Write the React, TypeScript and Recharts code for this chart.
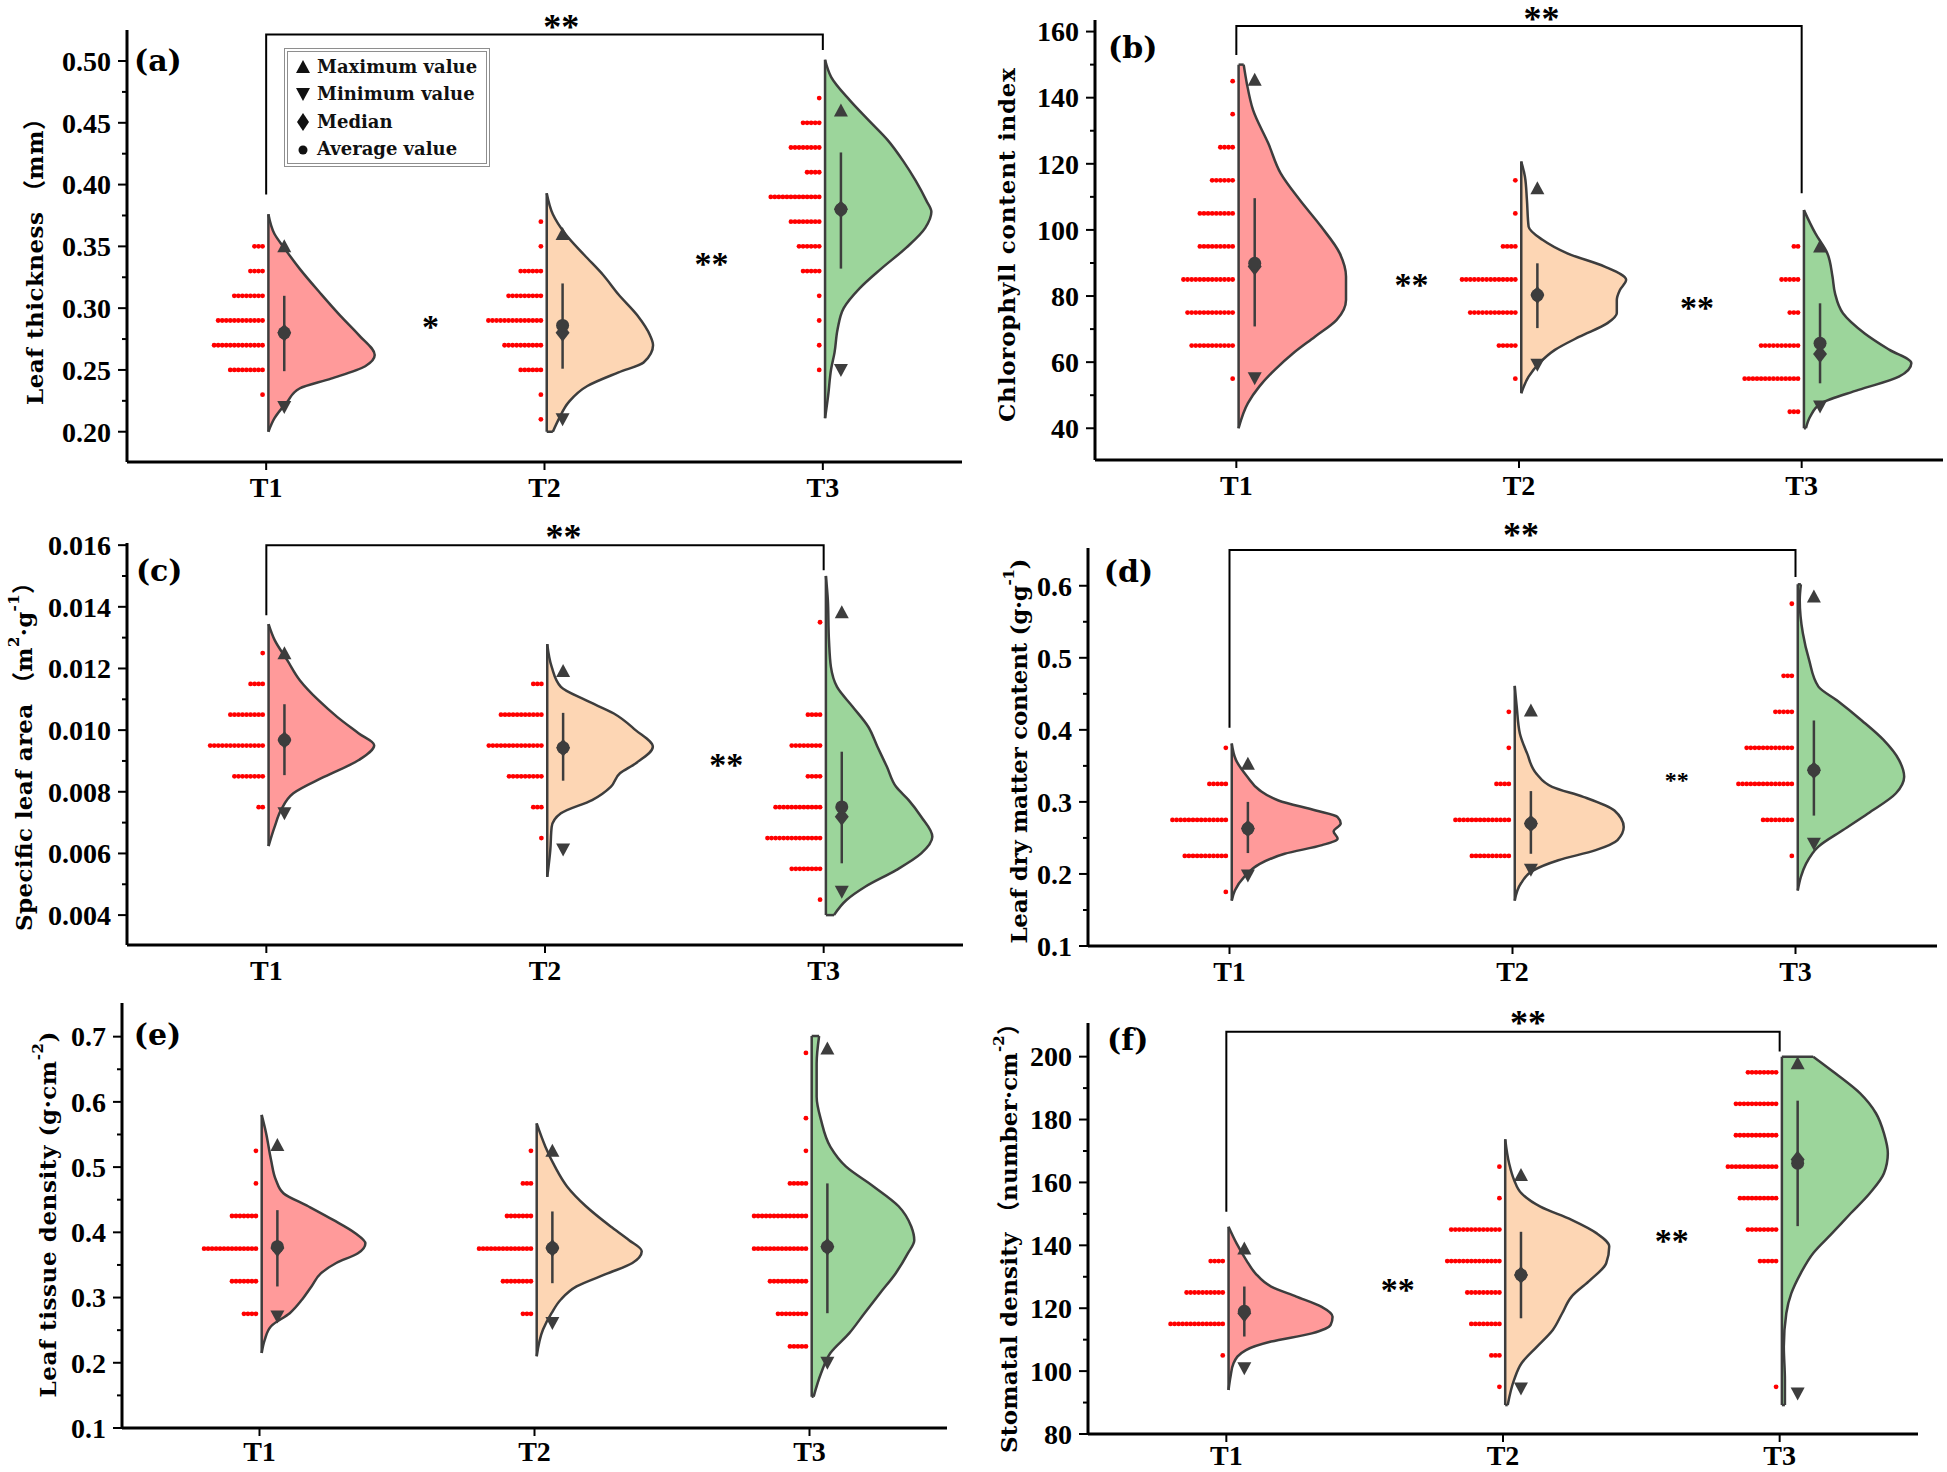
import React from 'react';
import { ComposedChart, Area, Line, Scatter, XAxis, YAxis, Legend } from 'recharts';

type Pair = [number, number];
type Star = [number, number, string];
type Seg = { t: string; sup?: boolean };

const treatments = ['T1', 'T2', 'T3'];

// ---------- (a) Leaf thickness ----------
const aTicks = [0.2, 0.25, 0.3, 0.35, 0.4, 0.45, 0.5];
const aMinor = [0.225, 0.275, 0.325, 0.375, 0.425, 0.475];
// violin outline: [value, half width in category units]
const aViolinT1: Pair[] = [[0.376, 0], [0.36, 0.022], [0.349, 0.056], [0.332, 0.112], [0.311, 0.191], [0.294, 0.258], [0.278, 0.326], [0.262, 0.382], [0.253, 0.348], [0.243, 0.225], [0.235, 0.112], [0.224, 0.067], [0.211, 0.022], [0.2, 0]];
const aViolinT2: Pair[] = [[0.393, 0], [0.376, 0.022], [0.36, 0.067], [0.343, 0.135], [0.327, 0.202], [0.311, 0.258], [0.294, 0.326], [0.278, 0.371], [0.27, 0.382], [0.256, 0.348], [0.248, 0.258], [0.237, 0.146], [0.224, 0.079], [0.211, 0.045], [0.2, 0.022]];
const aViolinT3: Pair[] = [[0.501, 0], [0.487, 0.022], [0.468, 0.09], [0.452, 0.157], [0.436, 0.225], [0.419, 0.281], [0.403, 0.326], [0.387, 0.364], [0.378, 0.382], [0.365, 0.36], [0.349, 0.292], [0.332, 0.202], [0.316, 0.124], [0.3, 0.067], [0.283, 0.045], [0.264, 0.034], [0.251, 0.022], [0.229, 0.011], [0.211, 0]];
// dot histogram: [bin centre, count]
const aDotsT1: Pair[] = [[0.35, 3], [0.33, 4], [0.31, 8], [0.29, 12], [0.27, 13], [0.25, 9], [0.23, 1]];
const aDotsT2: Pair[] = [[0.37, 1], [0.35, 1], [0.33, 6], [0.31, 9], [0.29, 14], [0.27, 10], [0.25, 6], [0.23, 1], [0.21, 1]];
const aDotsT3: Pair[] = [[0.47, 1], [0.45, 5], [0.43, 8], [0.41, 4], [0.39, 13], [0.37, 8], [0.35, 6], [0.33, 5], [0.31, 1], [0.29, 1], [0.27, 1], [0.25, 1]];
const aMax = [0.35, 0.36, 0.46];
const aMin = [0.22, 0.21, 0.25];
const aMedian = [0.28, 0.28, 0.38];
const aMean = [0.28, 0.286, 0.38];
const aSdLow = [0.249, 0.251, 0.332];
const aSdHigh = [0.31, 0.32, 0.426];
const aBracket = [0.392, 0.5215, 0.509];
const aTopStar = 2.06;
const aStars: Star[] = [[1.59, 0.289, '*'], [2.6, 0.34, '**']];

// ---------- (b) Chlorophyll content index ----------
const bTicks = [40, 60, 80, 100, 120, 140, 160];
const bMinor = [50, 70, 90, 110, 130, 150];
const bViolinT1: Pair[] = [[150, 0.018], [144.4, 0.029], [136.3, 0.051], [126.2, 0.105], [117.1, 0.149], [109.1, 0.216], [101, 0.292], [92.9, 0.358], [85.9, 0.38], [78.8, 0.38], [72.8, 0.347], [67.7, 0.27], [62.7, 0.193], [57.6, 0.127], [52.6, 0.073], [47.6, 0.033], [40, 0]];
const bViolinT2: Pair[] = [[120.7, 0], [116.1, 0.013], [109.1, 0.02], [101, 0.026], [97, 0.075], [92.9, 0.163], [88.9, 0.295], [84.9, 0.371], [81.8, 0.349], [78.8, 0.338], [74.8, 0.338], [71.8, 0.305], [67.7, 0.206], [63.7, 0.119], [59.7, 0.064], [55.6, 0.026], [50.6, 0]];
const bViolinT3: Pair[] = [[106, 0], [99, 0.04], [92.9, 0.083], [85.9, 0.101], [80.8, 0.11], [74.8, 0.138], [68.7, 0.215], [63.7, 0.303], [59.7, 0.38], [55.6, 0.336], [51.6, 0.193], [47.6, 0.062], [43.5, 0.022], [40, 0.007]];
const bDotsT1: Pair[] = [[145, 1], [135, 1], [125, 4], [115, 6], [105, 9], [95, 9], [85, 13], [75, 12], [65, 11], [55, 1]];
const bDotsT2: Pair[] = [[115, 1], [105, 1], [95, 4], [85, 14], [75, 12], [65, 5], [55, 1]];
const bDotsT3: Pair[] = [[95, 2], [85, 5], [75, 3], [65, 10], [55, 14], [45, 3]];
const bMax = [145.4, 112.6, 95];
const bMin = [55.1, 59.2, 46.6];
const bMedian = [88.9, 80.3, 62.5];
const bMean = [89.9, 80.3, 65.7];
const bSdLow = [70.8, 70.3, 53.6];
const bSdHigh = [109.6, 89.9, 77.8];
const bBracket = [152.9, 161.7, 111.1];
const bTopStar = 2.08;
const bStars: Star[] = [[1.62, 84.9, '**'], [2.63, 77.8, '**']];

// ---------- (c) Specific leaf area ----------
const cTicks = [0.004, 0.006, 0.008, 0.01, 0.012, 0.014, 0.016];
const cMinor = [0.005, 0.007, 0.009, 0.011, 0.013, 0.015];
const cViolinT1: Pair[] = [[0.01344, 0], [0.01292, 0.022], [0.01227, 0.067], [0.01162, 0.112], [0.01097, 0.179], [0.01043, 0.246], [0.00989, 0.324], [0.00951, 0.379], [0.00903, 0.324], [0.00849, 0.201], [0.00795, 0.089], [0.00741, 0.045], [0.00687, 0.022], [0.00624, 0]];
const cViolinT2: Pair[] = [[0.01279, 0], [0.01205, 0.016], [0.0114, 0.049], [0.01097, 0.138], [0.01054, 0.239], [0.01, 0.317], [0.00946, 0.379], [0.00892, 0.317], [0.0086, 0.261], [0.00816, 0.228], [0.00773, 0.161], [0.0073, 0.049], [0.00686, 0.016], [0.00611, 0.011], [0.00524, 0]];
const cViolinT3: Pair[] = [[0.015, 0], [0.01422, 0.007], [0.01292, 0.011], [0.01205, 0.018], [0.0114, 0.04], [0.01076, 0.096], [0.01011, 0.152], [0.00946, 0.185], [0.00881, 0.219], [0.00816, 0.252], [0.00773, 0.297], [0.00719, 0.342], [0.00654, 0.382], [0.006, 0.342], [0.00546, 0.252], [0.00492, 0.141], [0.00449, 0.074], [0.004, 0.029]];
const cDotsT1: Pair[] = [[0.0125, 1], [0.0115, 4], [0.0105, 9], [0.0095, 14], [0.0085, 8], [0.0075, 2]];
const cDotsT2: Pair[] = [[0.0115, 3], [0.0105, 11], [0.0095, 14], [0.0085, 9], [0.0075, 3], [0.0065, 1]];
const cDotsT3: Pair[] = [[0.0135, 1], [0.0105, 4], [0.0095, 8], [0.0085, 4], [0.0075, 12], [0.0065, 14], [0.0055, 8], [0.0045, 1]];
const cMax = [0.01249, 0.01192, 0.01382];
const cMin = [0.0073, 0.00613, 0.00476];
const cMedian = [0.00968, 0.00943, 0.00719];
const cMean = [0.00968, 0.00943, 0.00751];
const cSdLow = [0.00854, 0.00836, 0.00568];
const cSdHigh = [0.01084, 0.01056, 0.0093];
const cBracket = [0.01373, 0.016, 0.01519];
const cTopStar = 2.066;
const cStars: Star[] = [[2.65, 0.00903, '**']];

// ---------- (d) Leaf dry matter content ----------
const dTicks = [0.1, 0.2, 0.3, 0.4, 0.5, 0.6];
const dMinor = [0.15, 0.25, 0.35, 0.45, 0.55];
const dViolinT1: Pair[] = [[0.381, 0], [0.358, 0.015], [0.335, 0.055], [0.316, 0.099], [0.302, 0.165], [0.288, 0.297], [0.279, 0.374], [0.27, 0.385], [0.259, 0.36], [0.249, 0.374], [0.24, 0.319], [0.228, 0.187], [0.214, 0.099], [0.196, 0.044], [0.177, 0.011], [0.163, 0]];
const dViolinT2: Pair[] = [[0.461, 0], [0.432, 0.007], [0.395, 0.018], [0.367, 0.044], [0.339, 0.077], [0.321, 0.132], [0.307, 0.242], [0.288, 0.352], [0.265, 0.385], [0.247, 0.363], [0.233, 0.286], [0.219, 0.154], [0.205, 0.066], [0.187, 0.022], [0.163, 0]];
const dViolinT3: Pair[] = [[0.602, 0.011], [0.58, 0.007], [0.534, 0.018], [0.497, 0.04], [0.46, 0.073], [0.441, 0.138], [0.413, 0.226], [0.386, 0.303], [0.358, 0.358], [0.335, 0.376], [0.312, 0.347], [0.284, 0.248], [0.261, 0.16], [0.238, 0.073], [0.214, 0.029], [0.196, 0.011], [0.177, 0]];
const dDotsT1: Pair[] = [[0.375, 1], [0.325, 5], [0.275, 14], [0.225, 11], [0.175, 1]];
const dDotsT2: Pair[] = [[0.425, 1], [0.375, 1], [0.325, 4], [0.275, 14], [0.225, 10]];
const dDotsT3: Pair[] = [[0.575, 1], [0.475, 3], [0.425, 5], [0.375, 12], [0.325, 14], [0.275, 8], [0.225, 1]];
const dMax = [0.353, 0.427, 0.585];
const dMin = [0.198, 0.206, 0.242];
const dMedian = [0.263, 0.27, 0.344];
const dMean = [0.263, 0.27, 0.344];
const dSdLow = [0.229, 0.228, 0.281];
const dSdHigh = [0.3, 0.315, 0.413];
const dBracket = [0.403, 0.6495, 0.612];
const dTopStar = 2.03;
const dStars: Star[] = [[2.58, 0.335, '**']];

// ---------- (e) Leaf tissue density ----------
const eTicks = [0.1, 0.2, 0.3, 0.4, 0.5, 0.6, 0.7];
const eMinor = [0.15, 0.25, 0.35, 0.45, 0.55, 0.65];
const eViolinT1: Pair[] = [[0.58, 0], [0.552, 0.016], [0.511, 0.034], [0.48, 0.052], [0.46, 0.079], [0.44, 0.169], [0.419, 0.26], [0.399, 0.339], [0.383, 0.377], [0.368, 0.35], [0.353, 0.271], [0.337, 0.215], [0.317, 0.181], [0.297, 0.147], [0.276, 0.102], [0.256, 0.034], [0.235, 0.011], [0.215, 0]];
const eViolinT2: Pair[] = [[0.567, 0], [0.531, 0.032], [0.501, 0.066], [0.47, 0.111], [0.44, 0.179], [0.409, 0.269], [0.388, 0.336], [0.371, 0.382], [0.353, 0.348], [0.337, 0.258], [0.317, 0.145], [0.297, 0.088], [0.276, 0.054], [0.251, 0.023], [0.21, 0]];
const eViolinT3: Pair[] = [[0.701, 0.027], [0.659, 0.018], [0.608, 0.018], [0.572, 0.034], [0.531, 0.068], [0.501, 0.124], [0.47, 0.226], [0.44, 0.316], [0.409, 0.362], [0.388, 0.373], [0.368, 0.35], [0.337, 0.305], [0.307, 0.249], [0.276, 0.192], [0.245, 0.136], [0.215, 0.068], [0.184, 0.034], [0.148, 0.007]];
const eDotsT1: Pair[] = [[0.525, 1], [0.475, 1], [0.425, 7], [0.375, 14], [0.325, 7], [0.275, 4]];
const eDotsT2: Pair[] = [[0.525, 1], [0.475, 3], [0.425, 7], [0.375, 14], [0.325, 8], [0.275, 3]];
const eDotsT3: Pair[] = [[0.675, 1], [0.575, 1], [0.525, 1], [0.475, 5], [0.425, 14], [0.375, 14], [0.325, 10], [0.275, 8], [0.225, 5]];
const eMax = [0.534, 0.525, 0.682];
const eMin = [0.271, 0.261, 0.2];
const eMedian = [0.376, 0.376, 0.378];
const eMean = [0.378, 0.376, 0.378];
const eSdLow = [0.317, 0.322, 0.276];
const eSdHigh = [0.434, 0.432, 0.475];

// ---------- (f) Stomatal density ----------
const fTicks = [80, 100, 120, 140, 160, 180, 200];
const fMinor = [90, 110, 130, 150, 170, 190];
const fViolinT1: Pair[] = [[145.9, 0], [140.6, 0.029], [135.3, 0.064], [131.1, 0.097], [126.9, 0.154], [123.7, 0.245], [120.5, 0.335], [117.3, 0.376], [114.7, 0.369], [112, 0.301], [109.4, 0.154], [106.7, 0.063], [102.5, 0.018], [98.2, 0.007], [94, 0]];
const fViolinT2: Pair[] = [[173.7, 0], [166.1, 0.014], [160.8, 0.032], [156.5, 0.059], [152.3, 0.127], [148.1, 0.24], [143.8, 0.331], [139.6, 0.376], [134.3, 0.365], [129, 0.308], [123.7, 0.24], [118.4, 0.206], [113.1, 0.172], [107.8, 0.115], [102.5, 0.059], [97.2, 0.032], [89.2, 0.009]];
const fViolinT3: Pair[] = [[200, 0.113], [194.7, 0.193], [188.3, 0.283], [182, 0.34], [175.6, 0.369], [169.3, 0.383], [162.9, 0.369], [156.5, 0.317], [150.2, 0.249], [143.8, 0.181], [137.5, 0.113], [131.1, 0.068], [124.7, 0.034], [118.4, 0.016], [107.8, 0.007], [97.2, 0.011], [89.2, 0.011]];
const fDotsT1: Pair[] = [[135, 4], [125, 10], [115, 14], [105, 1]];
const fDotsT2: Pair[] = [[165, 1], [155, 1], [145, 13], [135, 14], [125, 9], [115, 8], [105, 3], [95, 1]];
const fDotsT3: Pair[] = [[195, 8], [185, 11], [175, 11], [165, 13], [155, 10], [145, 8], [135, 5], [95, 1]];
const fMax = [139, 162.4, 197.9];
const fMin = [100.9, 94.5, 92.9];
const fMedian = [118.4, 130.6, 167.3];
const fMean = [119, 130.6, 166.1];
const fSdLow = [111, 116.8, 146.1];
const fSdHigh = [126.9, 144.3, 186];
const fBracket = [150.7, 207.9, 201.6];
const fTopStar = 2.09;
const fStars: Star[] = [[1.62, 127.4, '**'], [2.61, 142.8, '**']];

// ---------- styling ----------
const INK = '#3d3d3d';
const FILLS = ['#ff9a9a', '#fdd6b4', '#9cd59b'];
const SERIF = '"Liberation Serif", "Times New Roman", serif';
const WIDE_SERIF = '"DejaVu Serif", "Noto Sans CJK SC", serif';
const YAXIS_W = 135;
const XAXIS_H = 45;
const RIGHT = 10;
const VIOLIN_GAP = 0.008;
const DOT_GAP = 0.013;
const DOT_STEP = 0.0145;
const MARK_DX = 0.065;

interface Panel {
  label: string;
  labelAt: Pair;
  title: Seg[];
  titleLen: number;
  titleDx: number;
  titleDy: number;
  plot: { x: number; y: number; w: number; h: number };
  domain: Pair;
  ticks: number[];
  minor: number[];
  digits: number;
  xTickGap: number;
  violins: Pair[][];
  dots: Pair[][];
  max: number[];
  min: number[];
  median: number[];
  mean: number[];
  sdLow: number[];
  sdHigh: number[];
  bracket?: number[];
  topStar?: number;
  starLift?: number;
  stars: Star[];
  innerStarSize: number;
  legend?: boolean;
}

const panels: Panel[] = [
  {
    label: '(a)', labelAt: [0.525, 0.5008],
    title: [{ t: 'Leaf thickness （mm）' }], titleLen: 298, titleDx: -93, titleDy: 10,
    plot: { x: 127, y: 30, w: 835, h: 432 }, domain: [0.1755, 0.5251], ticks: aTicks, minor: aMinor, digits: 2, xTickGap: 7,
    violins: [aViolinT1, aViolinT2, aViolinT3], dots: [aDotsT1, aDotsT2, aDotsT3],
    max: aMax, min: aMin, median: aMedian, mean: aMean, sdLow: aSdLow, sdHigh: aSdHigh,
    bracket: aBracket, topStar: aTopStar, starLift: 12, stars: aStars, innerStarSize: 34, legend: true,
  },
  {
    label: '(b)', labelAt: [0.546, 155.1],
    title: [{ t: 'Chlorophyll content index' }], titleLen: 354, titleDx: -89, titleDy: 5,
    plot: { x: 1095, y: 20, w: 848, h: 440 }, domain: [30.4, 163.5], ticks: bTicks, minor: bMinor, digits: 0, xTickGap: 7,
    violins: [bViolinT1, bViolinT2, bViolinT3], dots: [bDotsT1, bDotsT2, bDotsT3],
    max: bMax, min: bMin, median: bMedian, mean: bMean, sdLow: bSdLow, sdHigh: bSdHigh,
    bracket: bBracket, topStar: bTopStar, starLift: 12, stars: bStars, innerStarSize: 34,
  },
  {
    label: '(c)', labelAt: [0.532, 0.01519],
    title: [{ t: 'Specific leaf area （m' }, { t: '2', sup: true }, { t: '·g' }, { t: '-1', sup: true }, { t: '）' }],
    titleLen: 360, titleDx: -104, titleDy: 7,
    plot: { x: 127, y: 543, w: 836, h: 402 }, domain: [0.00303, 0.01607], ticks: cTicks, minor: cMinor, digits: 3, xTickGap: 7,
    violins: [cViolinT1, cViolinT2, cViolinT3], dots: [cDotsT1, cDotsT2, cDotsT3],
    max: cMax, min: cMin, median: cMedian, mean: cMean, sdLow: cSdLow, sdHigh: cSdHigh,
    bracket: cBracket, topStar: cTopStar, starLift: 13, stars: cStars, innerStarSize: 34,
  },
  {
    label: '(d)', labelAt: [0.556, 0.6204],
    title: [{ t: 'Leaf dry matter content (g·g' }, { t: '-1', sup: true }, { t: ')' }],
    titleLen: 385, titleDx: -70, titleDy: 4,
    plot: { x: 1088, y: 548, w: 849, h: 398 }, domain: [0.1, 0.6524], ticks: dTicks, minor: dMinor, digits: 1, xTickGap: 7,
    violins: [dViolinT1, dViolinT2, dViolinT3], dots: [dDotsT1, dDotsT2, dDotsT3],
    max: dMax, min: dMin, median: dMedian, mean: dMean, sdLow: dSdLow, sdHigh: dSdHigh,
    bracket: dBracket, topStar: dTopStar, starLift: 20, stars: dStars, innerStarSize: 24,
  },
  {
    label: '(e)', labelAt: [0.543, 0.7026],
    title: [{ t: 'Leaf tissue density (g·cm' }, { t: '-2', sup: true }, { t: ')' }],
    titleLen: 366, titleDx: -75, titleDy: -1,
    plot: { x: 122, y: 1003, w: 825, h: 425 }, domain: [0.1, 0.7516], ticks: eTicks, minor: eMinor, digits: 1, xTickGap: 5,
    violins: [eViolinT1, eViolinT2, eViolinT3], dots: [eDotsT1, eDotsT2, eDotsT3],
    max: eMax, min: eMin, median: eMedian, mean: eMean, sdLow: eSdLow, sdHigh: eSdHigh,
    stars: [], innerStarSize: 34,
  },
  {
    label: '(f)', labelAt: [0.569, 205.6],
    title: [{ t: 'Stomatal density （number·cm' }, { t: '-2', sup: true }, { t: '）' }],
    titleLen: 441, titleDx: -80, titleDy: 4,
    plot: { x: 1088, y: 1023, w: 830, h: 411 }, domain: [80, 210.7], ticks: fTicks, minor: fMinor, digits: 0, xTickGap: 3,
    violins: [fViolinT1, fViolinT2, fViolinT3], dots: [fDotsT1, fDotsT2, fDotsT3],
    max: fMax, min: fMin, median: fMedian, mean: fMean, sdLow: fSdLow, sdHigh: fSdHigh,
    bracket: fBracket, topStar: fTopStar, starLift: 14, stars: fStars, innerStarSize: 34,
  },
];

// ---------- table builders ----------
const violinRows = (c: number, pts: Pair[]) =>
  [...pts].sort((p, q) => p[0] - q[0]).map(([v, w]) => ({ v, r: [c + VIOLIN_GAP, c + VIOLIN_GAP + w] }));

// flat tops / bottoms of violins, one two-point segment each
const capSegments = (violins: Pair[][]) =>
  violins.flatMap((pts, i) => {
    const c = i + 1 + VIOLIN_GAP;
    return [pts[0], pts[pts.length - 1]]
      .filter(([, w]) => w > 0)
      .map(([v, w]) => [{ v, e: c }, { v, e: c + w }]);
  });

const dotRows = (groups: Pair[][]) =>
  groups.flatMap((bins, i) =>
    bins.flatMap(([v, n]) => Array.from({ length: n }, (_, k) => ({ x: i + 1 - DOT_GAP - k * DOT_STEP, v }))),
  );

const markRows = (vals: number[]) => vals.map((v, i) => ({ x: i + 1 + MARK_DX, v }));

const sdSegments = (lo: number[], hi: number[]) =>
  lo.map((l, i) => [{ v: l, e: i + 1 + MARK_DX }, { v: hi[i], e: i + 1 + MARK_DX }]);

const bracketRows = (b: number[]) => [{ v: b[0], e: 1 }, { v: b[1], e: 1 }, { v: b[1], e: 3 }, { v: b[2], e: 3 }];

// ---------- shapes ----------
const redDot = (p: any) => <circle cx={p.cx} cy={p.cy} r={2.4} fill="#ff0000" />;
const upTri = (p: any) => <polygon points={`${p.cx - 7},${p.cy + 6} ${p.cx + 7},${p.cy + 6} ${p.cx},${p.cy - 7}`} fill={INK} />;
const downTri = (p: any) => <polygon points={`${p.cx - 7},${p.cy - 6} ${p.cx + 7},${p.cy - 6} ${p.cx},${p.cy + 7}`} fill={INK} />;
const diamond = (p: any) => <polygon points={`${p.cx},${p.cy - 9} ${p.cx + 7},${p.cy} ${p.cx},${p.cy + 9} ${p.cx - 7},${p.cy}`} fill={INK} />;
const disc = (p: any) => <circle cx={p.cx} cy={p.cy} r={6.5} fill={INK} />;

const starShape = (size: number, lift: number) => (p: any) => (
  <text x={p.cx} y={p.cy - lift + size * 0.47} textAnchor="middle" fontFamily={SERIF} fontWeight={700} fontSize={size} fill="#000">
    {p.payload.t}
  </text>
);

const labelShape = (text: string) => (p: any) => (
  <text x={p.cx} y={p.cy} dominantBaseline="central" fontFamily={WIDE_SERIF} fontWeight={700} fontSize={30} fill="#000">
    {text}
  </text>
);

const yTick = (majors: number[], digits: number) => (props: any) => {
  const { x, y, payload } = props;
  const ax = x + 16;
  const isMajor = majors.some((m) => Math.abs(m - payload.value) < 1e-9);
  return (
    <g>
      <line x1={ax - (isMajor ? 9 : 5)} x2={ax} y1={y} y2={y} stroke="#000" strokeWidth={2} />
      {isMajor && (
        <text x={x} y={y} dy="0.35em" textAnchor="end" fontFamily={SERIF} fontWeight={700} fontSize={28} fill="#000">
          {payload.value.toFixed(digits)}
        </text>
      )}
    </g>
  );
};

const TitleText = ({ segs, x, y, len }: { segs: Seg[]; x: number; y: number; len: number }) => {
  let shift = 0;
  return (
    <text
      x={x}
      y={y}
      transform={`rotate(-90 ${x} ${y})`}
      textAnchor="middle"
      dominantBaseline="central"
      fontFamily={WIDE_SERIF}
      fontWeight={700}
      fontSize={23}
      fill="#000"
      textLength={len}
    >
      {segs.map((s, i) => {
        const target = s.sup ? -9 : 0;
        const dy = target - shift;
        shift = target;
        return (
          <tspan key={i} dy={dy} fontSize={s.sup ? 15 : 23}>
            {s.t}
          </tspan>
        );
      })}
    </text>
  );
};

const legendItems = [
  { text: 'Maximum value', icon: <polygon points="4,16 18,16 11,3" fill="#111" /> },
  { text: 'Minimum value', icon: <polygon points="4,4 18,4 11,17" fill="#111" /> },
  { text: 'Median', icon: <polygon points="11,1 17,10 11,19 5,10" fill="#111" /> },
  { text: 'Average value', icon: <circle cx={11} cy={11} r={4.5} fill="#111" /> },
];

const LegendBox = () => (
  <div
    style={{
      boxSizing: 'border-box',
      width: 206,
      height: 119,
      border: '4px double #8e8e8e',
      background: '#fff',
      padding: '1px 0 0 4px',
      fontFamily: WIDE_SERIF,
      fontWeight: 700,
      fontSize: 18,
      color: '#111',
      lineHeight: 1,
    }}
  >
    {legendItems.map((it) => (
      <div key={it.text} style={{ display: 'flex', alignItems: 'center', height: 27.5 }}>
        <svg width={22} height={20}>{it.icon}</svg>
        <span style={{ marginLeft: 3 }}>{it.text}</span>
      </div>
    ))}
  </div>
);

const segLine = (rows: { v: number; e: number }[], key: string, color: string, w: number) => (
  <Line
    key={key}
    data={rows}
    dataKey="e"
    type="linear"
    stroke={color}
    strokeWidth={w}
    dot={false}
    activeDot={false}
    isAnimationActive={false}
  />
);

const PanelChart = ({ p }: { p: Panel }) => {
  const top = Math.min(40, p.plot.y);
  const width = p.plot.w + YAXIS_W + RIGHT;
  const height = p.plot.h + top + XAXIS_H;
  const allTicks = [...p.ticks, ...p.minor].sort((m, n) => m - n);
  const titleX = YAXIS_W + p.titleDx;
  const titleY = top + p.plot.h / 2 + p.titleDy;
  const lift = p.starLift ?? 14;

  return (
    <div style={{ position: 'absolute', left: p.plot.x - YAXIS_W, top: p.plot.y - top }}>
      <ComposedChart layout="vertical" width={width} height={height} margin={{ top, right: RIGHT, bottom: 0, left: 0 }}>
        <XAxis
          type="number"
          dataKey="x"
          domain={[0.5, 3.5]}
          ticks={[1, 2, 3]}
          interval={0}
          tickFormatter={(v: number) => treatments[v - 1]}
          height={XAXIS_H}
          tickSize={8}
          tickMargin={p.xTickGap}
          axisLine={{ stroke: '#000', strokeWidth: 3 }}
          tickLine={{ stroke: '#000', strokeWidth: 2 }}
          tick={{ fill: '#000', fontSize: 28, fontWeight: 700, fontFamily: SERIF }}
        />
        <YAxis
          type="number"
          dataKey="v"
          domain={p.domain}
          reversed
          ticks={allTicks}
          interval={0}
          width={YAXIS_W}
          tickSize={9}
          tickMargin={7}
          tickLine={false}
          axisLine={{ stroke: '#000', strokeWidth: 3 }}
          tick={yTick(p.ticks, p.digits)}
          label={{ content: () => <TitleText segs={p.title} x={titleX} y={titleY} len={p.titleLen} /> }}
        />
        {p.violins.map((pts, i) => (
          <Area
            key={`violin${i}`}
            data={violinRows(i + 1, pts)}
            dataKey="r"
            type="monotone"
            fill={FILLS[i]}
            fillOpacity={1}
            stroke={INK}
            strokeWidth={2.5}
            dot={false}
            activeDot={false}
            isAnimationActive={false}
          />
        ))}
        {capSegments(p.violins).map((rows, i) => segLine(rows, `cap${i}`, INK, 2.5))}
        <Scatter data={dotRows(p.dots)} shape={redDot} isAnimationActive={false} />
        {sdSegments(p.sdLow, p.sdHigh).map((rows, i) => segLine(rows, `sd${i}`, INK, 2.5))}
        <Scatter data={markRows(p.max)} shape={upTri} isAnimationActive={false} />
        <Scatter data={markRows(p.min)} shape={downTri} isAnimationActive={false} />
        <Scatter data={markRows(p.median)} shape={diamond} isAnimationActive={false} />
        <Scatter data={markRows(p.mean)} shape={disc} isAnimationActive={false} />
        {p.bracket && segLine(bracketRows(p.bracket), 'bracket', '#000', 2)}
        {p.bracket && p.topStar !== undefined && (
          <Scatter data={[{ x: p.topStar, v: p.bracket[1], t: '**' }]} shape={starShape(36, lift)} isAnimationActive={false} />
        )}
        {p.stars.length > 0 && (
          <Scatter data={p.stars.map(([x, v, t]) => ({ x, v, t }))} shape={starShape(p.innerStarSize, 0)} isAnimationActive={false} />
        )}
        <Scatter data={[{ x: p.labelAt[0], v: p.labelAt[1] }]} shape={labelShape(p.label)} isAnimationActive={false} />
        {p.legend && (
          <Legend
            layout="vertical"
            align="center"
            verticalAlign="middle"
            content={() => <LegendBox />}
            wrapperStyle={{ left: YAXIS_W + 157, top: top + 18, width: 206, height: 119 }}
          />
        )}
      </ComposedChart>
    </div>
  );
};

const App = () => (
  <div style={{ position: 'absolute', left: 0, top: 0, width: 1947, height: 1472, background: '#fff', overflow: 'hidden' }}>
    {panels.map((p) => (
      <PanelChart key={p.label} p={p} />
    ))}
  </div>
);

export default App;
